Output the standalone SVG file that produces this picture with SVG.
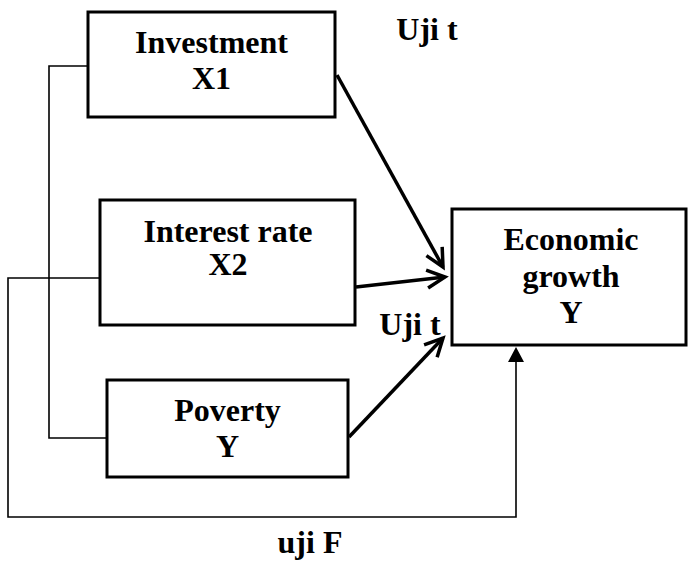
<svg xmlns="http://www.w3.org/2000/svg" width="688" height="563" viewBox="0 0 688 563">
<style>
.box{fill:#fff;stroke:#000;stroke-width:3}
text{font-family:'Liberation Serif','Times New Roman',Times,serif;font-weight:700;font-size:32px;fill:#000;text-anchor:middle}
.thin{fill:none;stroke:#000;stroke-width:1.6}
.arr{fill:none;stroke:#000;stroke-width:3.5;marker-end:url(#open)}
</style>
<defs>
<marker id="open" markerUnits="userSpaceOnUse" markerWidth="26" markerHeight="26" refX="21" refY="11" orient="auto">
<path d="M3,2 L21,11 L3,20" fill="none" stroke="#000" stroke-width="3.5" stroke-linejoin="miter"/>
</marker>
</defs>
<g id="connectors">
<polyline class="thin" points="88,66 49,66 49,438 107,438"/>
<polyline class="thin" points="100,278 8,278 8,517 516,517 516,362"/>
<path d="M508,362 L516,347 L524,362 Z" fill="#000"/>
<line class="arr" x1="337" y1="75" x2="443" y2="267"/>
<line class="arr" x1="356" y1="287" x2="445" y2="277"/>
<line class="arr" x1="349" y1="437" x2="443" y2="338"/>
</g>
<g id="investment">
<rect class="box" x="88" y="12" width="247" height="105"/>
<text x="211.5" y="53">Investment</text>
<text x="211.5" y="89">X1</text>
</g>
<g id="interest">
<rect class="box" x="100" y="200" width="255" height="125"/>
<text x="228" y="242">Interest rate</text>
<text x="228" y="275">X2</text>
</g>
<g id="poverty">
<rect class="box" x="107" y="380" width="241" height="97"/>
<text x="227.5" y="421">Poverty</text>
<text x="227.5" y="457">Y</text>
</g>
<g id="growth">
<rect class="box" x="452" y="209" width="234" height="136"/>
<text x="571" y="250">Economic</text>
<text x="571" y="287">growth</text>
<text x="571" y="323">Y</text>
</g>
<g id="labels">
<text x="427" y="40">Uji t</text>
<text x="410" y="335">Uji t</text>
<text x="310" y="553">uji F</text>
</g>
</svg>
